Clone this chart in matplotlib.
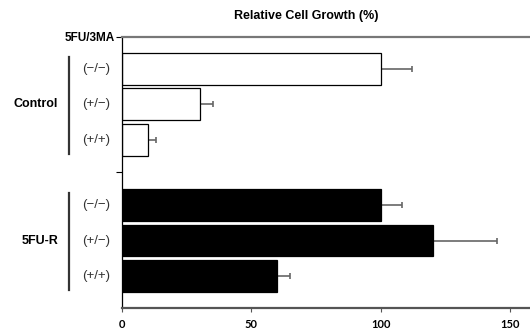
import matplotlib
matplotlib.use("Agg")
import matplotlib.pyplot as plt
import matplotlib.transforms as mtransforms

# data
groups = ["Control", "5FU-R"]
conditions = ["(\u2212/\u2212)", "(+/\u2212)", "(+/+)"]
growth = [[100, 30, 10], [100, 120, 60]]
errors = [[12, 5, 3], [8, 25, 5]]
xticks = [0, 50, 100, 150]

fig = plt.figure(figsize=(5.3, 3.3), dpi=100)
ax = fig.add_axes([0.2302, 0.0667, 0.7698, 0.8212])

fills = ["white", "black"]
gap = 3.83
trans = mtransforms.blended_transform_factory(ax.transAxes, ax.transData)
for g, name in enumerate(groups):
    pos = [g * gap + i for i in range(len(conditions))]
    ax.barh(pos, growth[g], height=0.9, color=fills[g], edgecolor="black", linewidth=0.9, zorder=2)
    # one-sided error bars (right side only)
    ax.errorbar(growth[g], pos, xerr=[[0] * len(pos), errors[g]], fmt="none",
                ecolor="#666666", elinewidth=1.2, capsize=2.5, capthick=1.2, zorder=1)
    for p, c in zip(pos, conditions):
        ax.text(-0.064, p, c, transform=trans, ha="center", va="center",
                fontsize=9.5, color="#333333", family="Liberation Sans")
    # bracket line
    ax.plot([-0.13, -0.13], [pos[0] - 0.33, pos[-1] + 0.4], transform=trans,
            color="#333333", lw=1.6, clip_on=False)
    ax.text(-0.157, pos[1], name, transform=trans, ha="right", va="center",
            fontsize=9, fontweight="bold", family="Liberation Sans")

ax.set_ylim(6.73, -0.9)
ax.set_xlim(0, 157.6)

ax.set_yticks([-0.9, 2.915])
ax.set_yticklabels(["5FU/3MA", ""], fontsize=8.5, fontweight="bold", family="Liberation Sans")
ax.tick_params(axis="y", length=4, width=0.8, pad=1)
ax.set_xticks(xticks)
ax.set_xticklabels([str(t) for t in xticks], fontsize=8, fontweight="bold", family="Lato")
ax.tick_params(axis="x", length=3, width=0.8, color="#555555", pad=5)

ax.spines["right"].set_visible(False)
ax.spines["left"].set_color("black")
ax.spines["left"].set_linewidth(0.9)
ax.spines["top"].set_color("#777777")
ax.spines["top"].set_linewidth(1.6)
ax.spines["bottom"].set_color("#555555")
ax.spines["bottom"].set_linewidth(1.6)

fig.text(306 / 530, 1 - 16 / 330, "Relative Cell Growth (%)", ha="center", va="center",
         fontsize=9, fontweight="bold", family="Liberation Sans")

fig.savefig("out.png", dpi=100)
